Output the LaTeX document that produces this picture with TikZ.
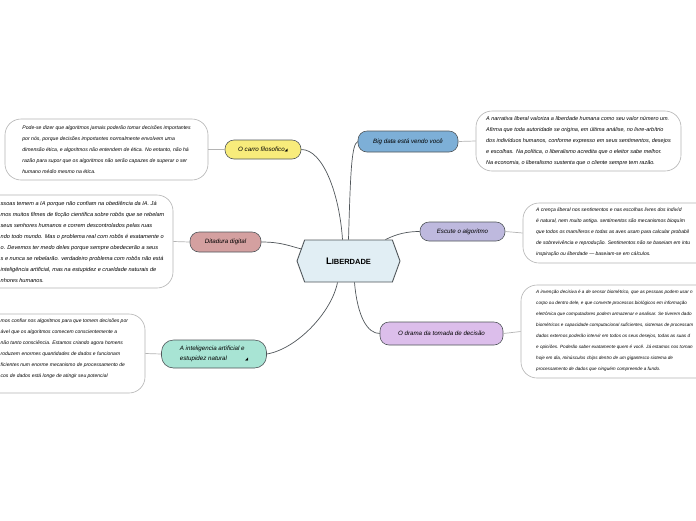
\documentclass[tikz,border=0pt]{standalone}
\usepackage{fontspec}
\setmainfont{Liberation Sans}
\newfontfamily\symbolfont{DejaVu Sans}
\usetikzlibrary{shapes.symbols}
\definecolor{hubfill}{HTML}{E1EEF4}
\definecolor{edgegray}{HTML}{50565A}
\definecolor{notegray}{HTML}{B4B4B4}
\definecolor{carroyellow}{HTML}{F8EC7B}
\definecolor{ditarose}{HTML}{D4A0A0}
\definecolor{iamint}{HTML}{A8E4D4}
\definecolor{bigblue}{HTML}{7DAFD7}
\definecolor{escutelilac}{HTML}{BEB9DE}
\definecolor{dramaorchid}{HTML}{DCBEEB}
\newcommand{\noteicon}{{\symbolfont\fontsize{4}{4}\selectfont ◢}}

\begin{document}
\begin{tikzpicture}[x=1pt, y=-1pt,
  hub/.style={shape=signal, signal to=west and east, signal pointer angle=140, draw=edgegray, line width=0.9pt, fill=hubfill, minimum width=103pt, minimum height=42pt, inner sep=0pt, font=\bfseries\fontsize{9.5}{10}\selectfont},
  topic/.style={draw=edgegray, line width=0.6pt, rounded corners=9pt, inner sep=0pt, font=\itshape\fontsize{6.2}{10}\selectfont},
  notebox/.style={draw=notegray, line width=0.6pt, fill=white, rounded corners=16pt},
  notetext/.style={align=left, inner sep=0pt, font=\itshape\fontsize{#1}{11}\selectfont},
  notetext/.default=5,
  branch/.style={draw=edgegray, line width=0.7pt},
  stub/.style={draw=notegray, line width=0.7pt}]
  \useasboundingbox (0,0) rectangle (696,520);
  \fill[white] (0,0) rectangle (696,520);
  \clip (0,0) rectangle (696,520);

  % notes
  \node[notebox, notetext=5.15, minimum width=203pt, minimum height=61pt] (carronote) at (106.5,149.5) {Pode-se dizer que algoritmos jamais poderão tomar decisões importantes\\por nós, porque decisões importantes normalmente envolvem uma\\dimensão ética, e algoritmos não entendem de ética. No entanto, não há\\razão para supor que os algoritmos não serão capazes de superar o ser\\humano médio mesmo na ética.};
  \node[notebox, minimum width=203pt, minimum height=93pt] (ditanote) at (71.5,241.5) {};
  \node[notetext=5.6, anchor=west] (ditatext) at (0.5,241.5) {ssoas temem a IA porque não confiam na obediência da IA. Já\\mos muitos filmes de ficção científica sobre robôs que se rebelam\\seus senhores humanos e correm descontrolados pelas ruas\\ndo todo mundo. Mas o problema real com robôs é exatamente o\\o. Devemos ter medo deles porque sempre obedecerão a seus\\s e nunca se rebelarão. verdadeiro problema com robôs não está\\inteligência artificial, mas na estupidez e crueldade naturais de\\nhores humanos.};
  \node[notebox, minimum width=175pt, minimum height=79pt] (ianote) at (57.5,353.5) {};
  \node[notetext, anchor=west] (iatext) at (0.5,348.5) {mos confiar nos algoritmos para que tomem decisões por\\ável que os algoritmos comecem conscientemente a\\não tanto consciência. Estamos criando agora homens\\roduzem enormes quantidades de dados e funcionam\\ficientes num enorme mecanismo de processamento de\\cos de dados está longe de atingir seu potencial};
  \node[notebox, notetext=5.5, minimum width=205pt, minimum height=60pt] (bignote) at (578.5,141) {A narrativa liberal valoriza a liberdade humana como seu valor número um.\\Afirma que toda autoridade se origina, em última análise, no livre-arbítrio\\dos indivíduos humanos, conforme expresso em seus sentimentos, desejos\\e escolhas. Na política, o liberalismo acredita que o eleitor sabe melhor.\\Na economia, o liberalismo sustenta que o cliente sempre tem razão.};
  \node[notebox, minimum width=203pt, minimum height=60pt] (escutenote) at (624.5,233) {};
  \node[notetext, anchor=west] (escutetext) at (536,232.5) {A crença liberal nos sentimentos e nas escolhas livres dos indivíd\\é natural, nem muito antiga. sentimentos são mecanismos bioquím\\que todos os mamíferos e todas as aves usam para calcular probabil\\de sobrevivência e reprodução. Sentimentos não se baseiam em intu\\inspiração ou liberdade — baseiam-se em cálculos.};
  \node[notebox, minimum width=203pt, minimum height=93pt] (dramanote) at (622.5,331.5) {};
  \node[notetext=4.6, anchor=west] (dramatext) at (536,330.5) {A invenção decisiva é a de sensor biométrico, que as pessoas podem usar n\\corpo ou dentro dele, e que converte processos biológicos em informação\\eletrônica que computadores podem armazenar e analisar. Se tiverem dado\\biométricos e capacidade computacional suficientes, sistemas de processam\\dados externos poderão intervir em todos os seus desejos, todas as suas d\\e opiniões. Poderão saber exatamente quem é você. Já estamos nos tornan\\hoje em dia, minúsculos chips dentro de um gigantesco sistema de\\processamento de dados que ninguém compreende a fundo.};

  % topics
  \node[hub] (lib) at (348.5,261) {L{\fontsize{7.5}{8}\selectfont IBERDADE}};
  \node[topic, fill=carroyellow, minimum width=76pt, minimum height=19pt] (carro) at (263,149.5) {O carro filosofico\noteicon};
  \node[topic, fill=ditarose, minimum width=71pt, minimum height=20pt] (dita) at (225.5,242) {Ditadura digital};
  \node[topic, fill=iamint, minimum width=105pt, minimum height=28pt, rounded corners=12pt, align=left] (ia) at (214,354) {A inteligencia artificial e\\estupidez natural\hspace{18pt}\noteicon};
  \node[topic, fill=bigblue, minimum width=100pt, minimum height=21pt] (bigdata) at (408,141.5) {Big data está vendo você};
  \node[topic, fill=escutelilac, minimum width=85pt, minimum height=19pt] (escute) at (462.5,231.5) {Escute o algoritmo};
  \node[topic, fill=dramaorchid, minimum width=123pt, minimum height=23pt] (drama) at (441.5,333.5) {O drama da tomada de decisão};

  % connectors
  \draw[branch] (carro.east) .. controls +(22,0) and +(-3,-45) .. ([xshift=-6pt]lib.north);
  \draw[branch] (lib.north) .. controls +(2,-70) and +(-6,3) .. (bigdata.west);
  \draw[branch] ([xshift=37pt]lib.north) .. controls +(12,-6) and +(-12,0) .. (escute.west);
  \draw[branch] (dita.east) .. controls +(20,0) and +(-12,-3) .. ([xshift=5pt,yshift=12pt]lib.west);
  \draw[branch] (ia.east) .. controls +(30,-5) and +(-6,30) .. ([xshift=-11pt]lib.south);
  \draw[branch] ([xshift=6pt]lib.south) .. controls +(3,35) and +(-12,0) .. (drama.west);
  \draw[stub] (carronote.east) -- (carro.west);
  \draw[stub] (ditanote.east) -- (dita.west);
  \draw[stub] (ianote.east) -- (ia.west);
  \draw[stub] (bignote.west) -- (bigdata.east);
  \draw[stub] (escutenote.west) -- (escute.east);
  \draw[stub] (dramanote.west) -- (drama.east);
\end{tikzpicture}
\end{document}
